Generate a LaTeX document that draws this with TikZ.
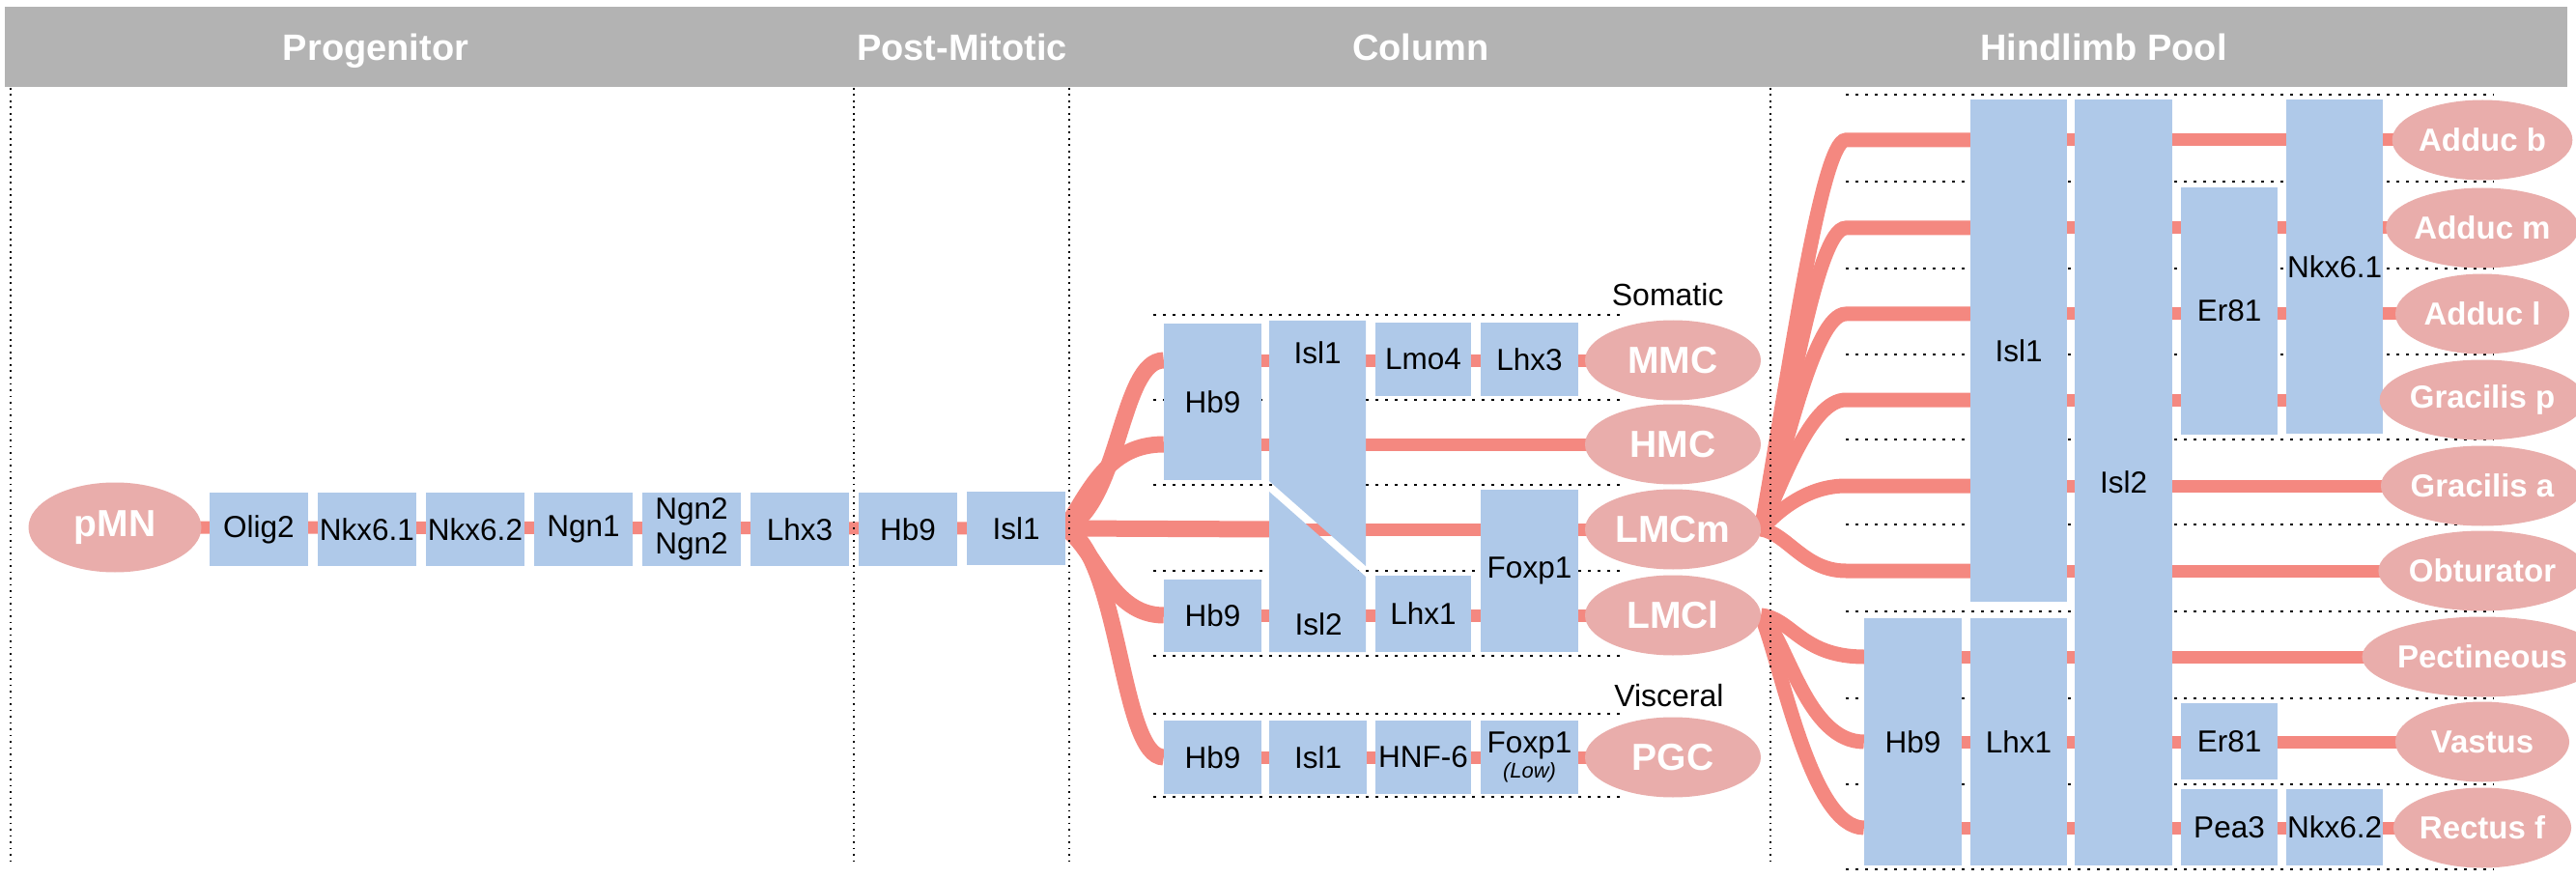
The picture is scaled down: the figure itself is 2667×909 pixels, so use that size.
\documentclass[tikz,border=0pt]{standalone}
\usepackage{fontspec}
\setmainfont{Liberation Sans}
\usetikzlibrary{backgrounds,shapes.geometric}
\definecolor{hdr}{RGB}{179,179,179}
\definecolor{bx}{RGB}{175,201,233}
\definecolor{ell}{RGB}{233,173,171}
\definecolor{lnk}{RGB}{244,136,128}
\newcommand\gbxnode[6]{%
 \pgfmathsetmacro\gbw{#4-#2}\pgfmathsetmacro\gbh{#5-#3}%
 \pgfmathsetmacro\gbcx{(#2+#4)/2}\pgfmathsetmacro\gbcy{(#3+#5)/2}%
 \node[gbox, minimum width=\gbw pt, minimum height=\gbh pt] (#1) at (\gbcx,\gbcy) {#6};}
\tikzset{
 gbox/.style={fill=bx, inner sep=0pt, align=center, font=\fontsize{31.5}{36}\selectfont},
 cell/.style={ellipse, fill=ell, inner sep=0pt, minimum width=182pt, minimum height=83pt, text=white, font=\bfseries\fontsize{39}{42}\selectfont},
 hcell/.style={ellipse, fill=ell, inner sep=0pt, minimum width=180pt, minimum height=83pt, text=white, font=\bfseries\fontsize{33}{36}\selectfont},
 hdrtext/.style={text=white, anchor=base, font=\bfseries\fontsize{38}{42}\selectfont},
 lbl/.style={font=\fontsize{32}{36}\selectfont, anchor=east},
 fan/.style={draw=lnk, line width=17pt},
 hfan/.style={draw=lnk, line width=15pt},
 row/.style={draw=lnk, line width=13pt},
 dotrow/.style={line width=2.5pt, dash pattern=on 2.5pt off 7.5pt},
 sep/.style={line width=1.8pt, dash pattern=on 1.8pt off 4.7pt}
}
\begin{document}
\begin{tikzpicture}[x=1pt,y=-1pt]
\useasboundingbox (0,0) rectangle (2667,909);
% header
\fill[hdr] (5,7) rectangle (2658,90);
\node[hdrtext] (hprog) at (389,63) {Progenitor};
\node[hdrtext] (hpost) at (996,63) {Post-Mitotic};
\node[hdrtext] (hcol) at (1471,63) {Column};
\node[hdrtext] (hpool) at (2178,63) {Hindlimb Pool};

% progenitor chain
\node[ellipse, fill=ell, inner sep=0pt, minimum width=179pt, minimum height=93pt, text=white, font=\bfseries\fontsize{39}{42}\selectfont] (pmn) at (119,546) {pMN};
\node[gbox, minimum width=102pt, minimum height=76pt] (olig) at (268,548) {Olig2};
\node[gbox, minimum width=102pt, minimum height=76pt] (nkxa) at (380,548) {Nkx6.1};
\node[gbox, minimum width=102pt, minimum height=76pt] (nkxb) at (492,548) {Nkx6.2};
\node[gbox, minimum width=102pt, minimum height=76pt] (ngna) at (604,548) {Ngn1};
\node[gbox, minimum width=102pt, minimum height=76pt] (ngnb) at (716,548) {Ngn2\\Ngn2};
\node[gbox, minimum width=102pt, minimum height=76pt] (lhxa) at (828,548) {Lhx3};
\node[gbox, minimum width=102pt, minimum height=76pt] (hbp) at (940,548) {Hb9};
\node[gbox, minimum width=102pt, minimum height=76pt] (isl1p) at (1052,547) {Isl1};

% column section
\gbxnode{hb9a}{1205}{335}{1306}{497}{Hb9}
\fill[bx] (1314,332) -- (1414,332) -- (1414,586) -- (1314,498) -- cycle;
\fill[bx] (1314,509) -- (1414,597) -- (1414,675) -- (1314,675) -- cycle;
\node[font=\fontsize{31.5}{36}\selectfont] (isl1s) at (1364,365) {Isl1};
\node[font=\fontsize{31.5}{36}\selectfont] (isl2s) at (1365,646) {Isl2};
\gbxnode{lmo}{1424}{334}{1523}{410}{Lmo4}
\gbxnode{lhxb}{1533}{334}{1634}{410}{Lhx3}
\gbxnode{hb9b}{1205}{600}{1306}{675}{Hb9}
\gbxnode{lhx1}{1424}{596}{1523}{675}{Lhx1}
\gbxnode{foxa}{1533}{507}{1634}{675}{Foxp1}
\gbxnode{hb9c}{1205}{746}{1306}{822}{Hb9}
\gbxnode{isl1c}{1314}{746}{1415}{822}{Isl1}
\gbxnode{hnf}{1424}{746}{1523}{822}{HNF-6}
\gbxnode{foxb}{1533}{746}{1634}{822}{Foxp1\\[-10pt]{\itshape\fontsize{22}{26}\selectfont (Low)}}
\node[cell] (mmc) at (1732,373) {MMC};
\node[cell] (hmc) at (1732,460) {HMC};
\node[cell] (lmcm) at (1732,548) {LMCm};
\node[cell] (lmcl) at (1732,637) {LMCl};
\node[cell] (pgc) at (1732,784) {PGC};
\node[lbl] (som) at (1788,305) {Somatic};
\node[lbl] (vis) at (1788,720) {Visceral};

% hindlimb section
\gbxnode{isl1h}{2040}{103}{2140}{623}{Isl1}
\gbxnode{isl2h}{2148}{103}{2249}{896}{Isl2}
\gbxnode{er81a}{2258}{194}{2358}{450}{Er81}
\gbxnode{nkx61h}{2367}{103}{2467}{449}{Nkx6.1}
\gbxnode{hb9h}{1930}{640}{2031}{896}{Hb9}
\gbxnode{lhx1h}{2040}{640}{2140}{896}{Lhx1}
\gbxnode{er81b}{2258}{728}{2358}{807}{Er81}
\gbxnode{pea}{2258}{817}{2358}{896}{Pea3}
\gbxnode{nkx62h}{2367}{817}{2467}{896}{Nkx6.2}
\node[hcell] (ab) at (2570,145) {Adduc b};
\node[hcell] (am) at (2570,236) {Adduc m};
\node[hcell] (al) at (2570,325) {Adduc l};
\node[hcell] (gp) at (2570,414) {Gracilis p};
\node[hcell] (ga) at (2570,503) {Gracilis a};
\node[hcell] (obt) at (2570,591) {Obturator};
\node[hcell] (pec) at (2570,680) {Pectineous};
\node[hcell] (vas) at (2570,768) {Vastus};
\node[hcell] (rec) at (2570,857) {Rectus f};

\begin{scope}[on background layer]
% chain
\draw[row] (pmn.center) -- (isl1p.center);
% column fans
\draw[fan] (isl1p.east) .. controls (1160,520) and (1160,373) .. (hb9a.west |- mmc.center);
\draw[fan] (isl1p.east) .. controls (1130,503) and (1150,460) .. (hb9a.west |- hmc.center);
\draw[fan] (isl1p.east) -- (1316,548);
\draw[fan] (isl1p.east) .. controls (1135,570) and (1150,637) .. (hb9b.west |- lmcl.center);
\draw[fan] (isl1p.east) .. controls (1160,575) and (1160,784) .. (hb9c.west);
% column rows
\draw[row] (hb9a.west |- mmc.center) -- (mmc.center);
\draw[row] (hb9a.west |- hmc.center) -- (hmc.center);
\draw[row] (1316,548) -- (lmcm.center);
\draw[row] (hb9b.west |- lmcl.center) -- (lmcl.center);
\draw[row] (hb9c.west) -- (pgc.center);
% hindlimb fans
\draw[hfan] (lmcm.east) .. controls (1850,400) and (1885,145) .. (1911,145) -- (isl1h.west |- ab.center);
\draw[hfan] (lmcm.east) .. controls (1850,440) and (1880,236) .. (1911,236) -- (isl1h.west |- am.center);
\draw[hfan] (lmcm.east) .. controls (1848,470) and (1878,325) .. (1911,325) -- (isl1h.west |- al.center);
\draw[hfan] (lmcm.east) .. controls (1845,500) and (1875,414) .. (1911,414) -- (isl1h.west |- gp.center);
\draw[hfan] (lmcm.east) .. controls (1840,530) and (1870,503) .. (1911,503) -- (isl1h.west |- ga.center);
\draw[hfan] (lmcm.east) .. controls (1850,552) and (1868,591) .. (1911,591) -- (isl1h.west |- obt.center);
\draw[hfan] (lmcl.east) .. controls (1855,640) and (1865,680) .. (hb9h.west |- pec.center);
\draw[hfan] (lmcl.east) .. controls (1850,660) and (1870,768) .. (hb9h.west |- vas.center);
\draw[hfan] (lmcl.east) .. controls (1845,690) and (1875,857) .. (hb9h.west |- rec.center);
% hindlimb rows
\foreach \e in {ab,am,al,gp,ga,obt}{\draw[row] (isl1h.west |- \e.center) -- (\e.center);}
\foreach \e in {pec,vas,rec}{\draw[row] (hb9h.west |- \e.center) -- (\e.center);}
% dotted rows
\foreach \yy in {326,414,502,591,679,739,825}{\draw[dotrow] (1194,\yy) -- (1682,\yy);}
\foreach \yy in {98,188,278,367,455,543,633,723,812,900}{\draw[dotrow] (1911,\yy) -- (2582,\yy);}
\end{scope}
% separators
\foreach \xx in {11,884,1107,1833}{\draw[sep] (\xx,91) -- (\xx,892);}
\end{tikzpicture}
\end{document}
